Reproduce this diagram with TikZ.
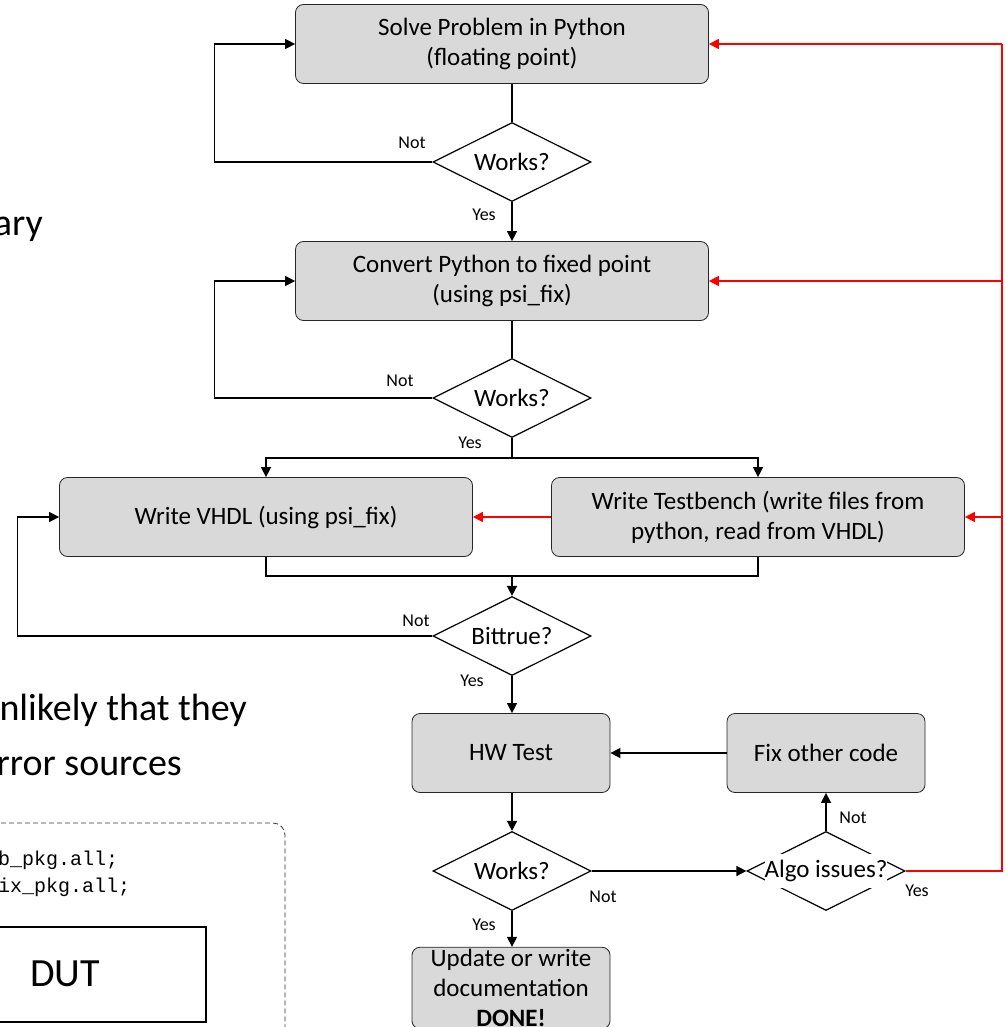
\documentclass[tikz,border=0pt]{standalone}
\usepackage{fontspec}
\setmainfont{Carlito}
\newfontfamily\codefont{Liberation Mono}
\usetikzlibrary{shapes.geometric,arrows.meta}
\definecolor{boxgray}{HTML}{D9D9D9}
\definecolor{backred}{HTML}{FF0000}

\begin{document}
\begin{tikzpicture}[x=1pt,y=-1pt,
  proc/.style={draw=black!85, line width=0.8pt, fill=boxgray, rounded corners=8pt,
    minimum width=413pt, minimum height=79pt, align=center, inner sep=2pt,
    font=\fontsize{25}{30}\selectfont},
  smallproc/.style={proc, minimum width=198pt},
  decision/.style={draw, diamond, aspect=2, line width=1.2pt, inner sep=0pt,
    minimum width=158pt, minimum height=79pt, font=\fontsize{25}{30}\selectfont},
  lbl/.style={font=\fontsize{18}{20}\selectfont, inner sep=0pt},
  line/.style={draw, line width=1.5pt},
  arr/.style={line, -{Triangle[length=10pt,width=10pt]}},
  redarr/.style={draw=backred, line width=1.5pt, -{Triangle[length=10pt,width=10pt]}},
  bigtext/.style={font=\fontsize{38}{46}\selectfont, inner sep=0pt},
  code/.style={font=\codefont\fontsize{20}{22}\selectfont, inner sep=0pt}]
\useasboundingbox (0,0) rectangle (1005,1027);
\clip (0,0) rectangle (1005,1027);

% slide text cut off on the left
\node[bigtext, anchor=base east] (ary) at (43,235) {ary};
\node[bigtext, anchor=base east] (unlikely) at (247,720) {nlikely that they};
\node[bigtext, anchor=base east] (sources) at (182,775) {rror sources};
\draw[dash pattern=on 5pt off 3pt, draw=black!80, line width=0.8pt, rounded corners=12pt]
  (-30,823) rectangle (285,1060);
\node[code, anchor=west] (lib1) at (-2,860) {b\_pkg.all;};
\node[code, anchor=west] (lib2) at (-2,887) {ix\_pkg.all;};
\draw[line width=1.5pt] (-30,927) rectangle (206,1022);
\node[font=\fontsize{40}{44}\selectfont] (dut) at (65,974) {DUT};

% flow
\node[proc] (solve) at (502,44) {Solve Problem in Python\\(floating point)};
\node[decision] (w1) at (512,162) {Works?};
\node[proc] (convert) at (502,281) {Convert Python to fixed point\\(using psi\_fix)};
\node[decision] (w2) at (512,398) {Works?};
\node[proc] (vhdl) at (266,517) {Write VHDL (using psi\_fix)};
\node[proc] (tb) at (758,517) {Write Testbench (write files from\\python, read from VHDL)};
\node[decision] (bit) at (512,636) {Bittrue?};
\node[smallproc] (hw) at (511,753) {HW Test};
\node[smallproc] (fix) at (826,753) {Fix other code};
\node[decision] (w3) at (512,871) {Works?};
\node[decision] (algo) at (826,871) {};
\node[fill=white, inner sep=0pt, minimum height=34pt, font=\fontsize{25}{30}\selectfont] (algotext) at (algo) {Algo issues?};
\node[smallproc] (done) at (511,988) {Update or write\\documentation\\\textbf{DONE!}};

\coordinate (split) at (512,458);
\coordinate (join) at (512,576);
\coordinate (rail) at (1002,44);

\path[line] (solve.south -| w1) -- (w1.north);
\path[arr] (w1.west) -- ++(-218,0) |- (solve.west);
\path[arr] (w1.south) -- (convert.north -| w1);
\path[line] (convert.south -| w2) -- (w2.north);
\path[arr] (w2.west) -- ++(-218,0) |- (convert.west);
\path[line] (w2.south) -- (split);
\path[arr] (split) -| (vhdl.north);
\path[arr] (split) -| (tb.north);
\path[redarr] (tb.west) -- (vhdl.east);
\path[line] (vhdl.south) |- (join) -| (tb.south);
\path[arr] (join) -- (bit.north);
\path[arr] (bit.west) -- ++(-415,0) |- (vhdl.west);
\path[arr] (bit.south) -- (hw.north -| bit);
\path[arr] (fix.west) -- (hw.east);
\path[arr] (hw.south -| w3) -- (w3.north);
\path[arr] (w3.east) -- (algo.west);
\path[arr] (algo.north) -- (fix.south);
\path[arr] (w3.south) -- (done.north -| w3);
\path[draw=backred, line width=1.5pt] (algo.east) -| (rail);
\path[redarr] (rail) -- (solve.east);
\path[redarr] (rail |- convert.east) -- (convert.east);
\path[redarr] (rail |- tb.east) -- (tb.east);

% labels
\node[lbl] (not1) at (412,143) {Not};
\node[lbl] (yes1) at (484,215) {Yes};
\node[lbl] (not2) at (400,381) {Not};
\node[lbl] (yes2) at (470,443) {Yes};
\node[lbl] (not3) at (416,621) {Not};
\node[lbl] (yes3) at (472,681) {Yes};
\node[lbl] (not4) at (603,897) {Not};
\node[lbl] (not5) at (853,818) {Not};
\node[lbl] (yes5) at (917,891) {Yes};
\node[lbl] (yes4) at (484,925) {Yes};
\end{tikzpicture}
\end{document}
